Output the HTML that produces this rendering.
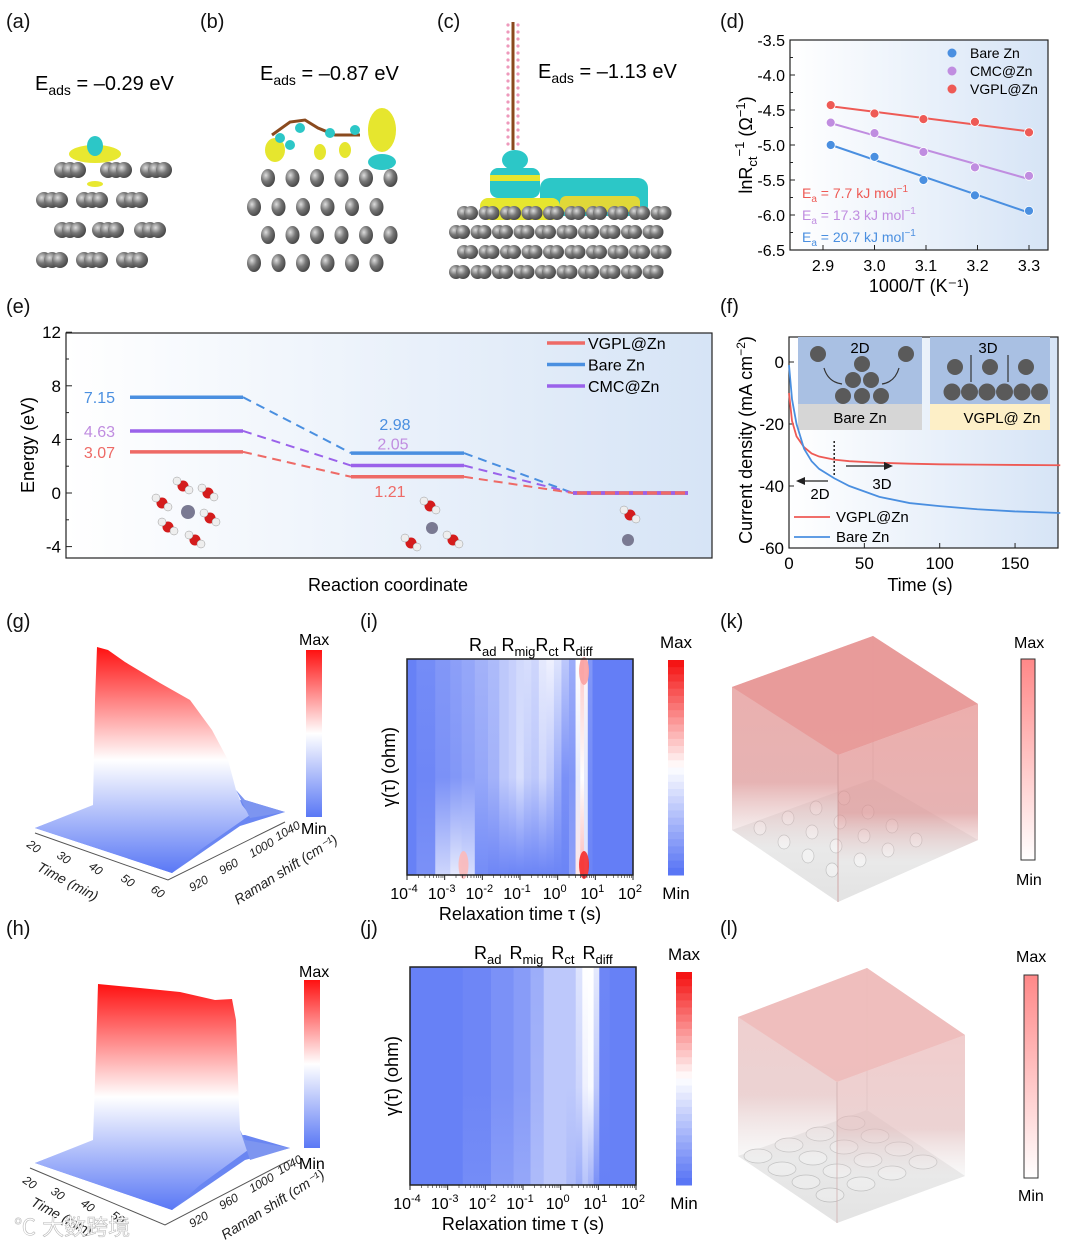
<!DOCTYPE html>
<html><head><meta charset="utf-8">
<style>
html,body{margin:0;padding:0;background:#fff;}
svg{display:block;font-family:"Liberation Sans","Noto Sans CJK SC",sans-serif;}
.lab{font-size:20px;fill:#111;}
</style></head>
<body>
<svg id="fig" width="1080" height="1245" viewBox="0 0 1080 1245" xmlns="http://www.w3.org/2000/svg">
<defs>
<linearGradient id="bgBlue" x1="0" y1="0" x2="1" y2="0"><stop offset="0" stop-color="#fff"/><stop offset="1" stop-color="#d6e4f6"/></linearGradient>
<linearGradient id="rwb" x1="0" y1="0" x2="0" y2="1"><stop offset="0" stop-color="#f11"/><stop offset="0.5" stop-color="#fff"/><stop offset="1" stop-color="#5a78f5"/></linearGradient>
<linearGradient id="rw" x1="0" y1="0" x2="0" y2="1"><stop offset="0" stop-color="#f88"/><stop offset="1" stop-color="#fff"/></linearGradient>
<linearGradient id="cubeK" x1="0" y1="0" x2="0" y2="1"><stop offset="0" stop-color="#e89a98"/><stop offset="0.55" stop-color="#e0a0a0"/><stop offset="0.8" stop-color="#eee" stop-opacity="0.5"/><stop offset="1" stop-color="#ddd" stop-opacity="0.4"/></linearGradient>
<linearGradient id="cubeL" x1="0" y1="0" x2="0" y2="1"><stop offset="0" stop-color="#ecbcbc"/><stop offset="0.5" stop-color="#e5c4c4"/><stop offset="0.75" stop-color="#eee" stop-opacity="0.5"/><stop offset="1" stop-color="#ddd" stop-opacity="0.4"/></linearGradient>
<radialGradient id="zn" cx="0.35" cy="0.35" r="0.7"><stop offset="0" stop-color="#ddd"/><stop offset="0.5" stop-color="#777"/><stop offset="1" stop-color="#444"/></radialGradient>
</defs>

<text class="lab" x="6" y="28">(a)</text>
<text class="lab" x="200" y="28">(b)</text>
<text class="lab" x="437" y="28">(c)</text>
<text class="lab" x="720" y="28">(d)</text>
<text class="lab" x="6" y="313">(e)</text>
<text class="lab" x="720" y="313">(f)</text>
<text class="lab" x="6" y="628">(g)</text>
<text class="lab" x="360" y="628">(i)</text>
<text class="lab" x="720" y="628">(k)</text>
<text class="lab" x="6" y="935">(h)</text>
<text class="lab" x="360" y="935">(j)</text>
<text class="lab" x="720" y="935">(l)</text>

<text x="35" y="90" font-size="20">E<tspan font-size="14" dy="5">ads</tspan><tspan dy="-5"> = –0.29 eV</tspan></text>
<text x="260" y="80" font-size="20">E<tspan font-size="14" dy="5">ads</tspan><tspan dy="-5"> = –0.87 eV</tspan></text>
<text x="538" y="78" font-size="20">E<tspan font-size="14" dy="5">ads</tspan><tspan dy="-5"> = –1.13 eV</tspan></text>
<g id="structA"></g>
<g id="structB"></g>
<g id="structC"></g>

<g id="chartD"></g>
<g id="chartE"></g>
<g id="chartF"></g>

<!-- (g) -->
<g>
<polygon points="35,828 95,805 245,800 285,812 240,826 172,873" fill="#6a86f2"/>
<path d="M35,828 L93,805 L95,700 L97,647 L108,650 L125,662 L160,683 L190,700 L212,730 L228,760 L236,790 L242,805 L250,815 L200,850 L172,873 Z" fill="url(#rwb)"/>
<path d="M236,790 L245,800 L285,812 L250,818 Z" fill="#7d95f0"/>
<polyline points="35,833 168,880 285,822" fill="none" stroke="#555" stroke-width="1"/>
<g font-size="12" fill="#222" font-style="italic">
<text transform="translate(26,846) rotate(35)">20</text><text transform="translate(56,857) rotate(35)">30</text><text transform="translate(88,868) rotate(35)">40</text><text transform="translate(120,880) rotate(35)">50</text><text transform="translate(150,891) rotate(35)">60</text>
<text transform="translate(36,870) rotate(28)" font-size="14">Time (min)</text>
<text transform="translate(192,892) rotate(-30)">920</text><text transform="translate(222,875) rotate(-30)">960</text><text transform="translate(252,858) rotate(-30)">1000</text><text transform="translate(278,841) rotate(-30)">1040</text>
<text transform="translate(238,905) rotate(-32)" font-size="14">Raman shift (cm⁻¹)</text>
</g>
<rect x="306" y="650" width="16" height="167" fill="url(#rwb)"/>
<text x="299" y="645" font-size="16">Max</text><text x="301" y="834" font-size="16">Min</text>
</g>

<!-- (h) -->
<g>
<polygon points="35,1163 95,1140 245,1135 290,1148 245,1160 172,1210" fill="#6a86f2"/>
<path d="M35,1163 L93,1140 L96,1050 L98,984 L140,988 L180,992 L215,1000 L232,999 L236,1020 L238,1080 L240,1130 L248,1150 L200,1185 L172,1210 Z" fill="url(#rwb)"/>
<path d="M240,1130 L245,1140 L290,1148 L250,1160 Z" fill="#7d95f0"/>
<polyline points="30,1168 165,1225 290,1160" fill="none" stroke="#555" stroke-width="1"/>
<g font-size="12" fill="#222" font-style="italic">
<text transform="translate(22,1182) rotate(35)">20</text><text transform="translate(50,1193) rotate(35)">30</text><text transform="translate(80,1205) rotate(35)">40</text><text transform="translate(110,1217) rotate(35)">50</text>
<text transform="translate(30,1205) rotate(28)" font-size="14">Time (min)</text>
<text transform="translate(192,1228) rotate(-30)">920</text><text transform="translate(222,1210) rotate(-30)">960</text><text transform="translate(252,1193) rotate(-30)">1000</text><text transform="translate(280,1175) rotate(-30)">1040</text>
<text transform="translate(225,1240) rotate(-32)" font-size="14">Raman shift (cm⁻¹)</text>
</g>
<rect x="304" y="980" width="16" height="168" fill="url(#rwb)"/>
<text x="299" y="977" font-size="16">Max</text><text x="299" y="1169" font-size="16">Min</text>
<text x="14" y="1235" font-size="22" fill="#fff" stroke="#bbb" stroke-width="0.6">℃ 大数跨境</text>
</g>

<g id="chartI"></g>
<g id="chartJ"></g>

<!-- (k) -->
<g>
<polygon points="732,830 873,779 978,840 838,902" fill="#e6e6e6"/>
<line x1="873" y1="636" x2="873" y2="779" stroke="#ccc" stroke-width="0.8"/>
<g id="bumpsK"></g>
<polygon points="732,687 873,636 978,704 838,755 838,902 732,830" fill="url(#cubeK)" opacity="0.8"/>
<polygon points="838,755 978,704 978,840 838,902" fill="url(#cubeK)" opacity="0.8"/>
<polygon points="732,687 873,636 978,704 838,755" fill="#e89896" opacity="0.85"/>
<line x1="838" y1="755" x2="838" y2="902" stroke="#c99" stroke-width="0.8"/>
<rect x="1021" y="659" width="14" height="201" fill="url(#rw)" stroke="#333" stroke-width="1"/>
<text x="1014" y="648" font-size="16">Max</text><text x="1016" y="885" font-size="16">Min</text>
</g>
<!-- (l) -->
<g>
<polygon points="738,1156 867,1110 965,1176 837,1223" fill="#e6e6e6"/>
<line x1="867" y1="968" x2="867" y2="1110" stroke="#ccc" stroke-width="0.8"/>
<g id="bumpsL"></g>
<polygon points="738,1017 867,968 965,1035 837,1082 837,1223 738,1156" fill="url(#cubeL)" opacity="0.75"/>
<polygon points="837,1082 965,1035 965,1176 837,1223" fill="url(#cubeL)" opacity="0.75"/>
<polygon points="738,1017 867,968 965,1035 837,1082" fill="#efbbba" opacity="0.85"/>
<line x1="837" y1="1082" x2="837" y2="1223" stroke="#d0b0b0" stroke-width="0.8"/>
<rect x="1024" y="975" width="14" height="203" fill="url(#rw)" stroke="#333" stroke-width="1"/>
<text x="1016" y="962" font-size="16">Max</text><text x="1018" y="1201" font-size="16">Min</text>
</g>

<script>
const dX = [2.915, 3.0, 3.095, 3.195, 3.3];
const dBare = [-5.0, -5.17, -5.5, -5.72, -5.94];
const dCMC = [-4.68, -4.83, -5.1, -5.32, -5.44];
const dVGPL = [-4.43, -4.55, -4.63, -4.67, -4.82];
const dYTicks = [-3.5, -4.0, -4.5, -5.0, -5.5, -6.0, -6.5];
const dXTicks = [2.9, 3.0, 3.1, 3.2, 3.3];
const dEa = ["7.7", "17.3", "20.7"];

const eStages = [0, 1, 2];
const eBare = [7.15, 2.98, 0];
const eCMC = [4.63, 2.05, 0];
const eVGPL = [3.07, 1.21, 0];
const eYTicks = [12, 8, 4, 0, -4];

const fTime = [0, 2, 5, 10, 15, 20, 30, 40, 60, 80, 100, 125, 150, 180];
const fVGPL = [-10, -19, -24, -27.5, -29.5, -30.5, -31.5, -32, -32.5, -32.8, -33, -33.1, -33.2, -33.3];
const fBare = [-1, -12, -20, -28, -32, -34.5, -37.5, -40, -43.5, -45.5, -46.5, -47.5, -48.2, -48.7];
const fYTicks = [0, -20, -40, -60];
const fXTicks = [0, 50, 100, 150];

const iLogTau = [-4, -3.5, -3, -2.7, -2.4, -2, -1.7, -1.4, -1.2, -1, -0.8, -0.6, -0.4, -0.2, 0, 0.2, 0.4, 0.55, 0.65, 0.75, 0.85, 1, 1.5, 2];
const iTop = [0.04, 0.08, 0.12, 0.15, 0.18, 0.22, 0.25, 0.3, 0.33, 0.36, 0.38, 0.35, 0.42, 0.45, 0.4, 0.3, 0.2, 0.5, 0.62, 0.52, 0.12, 0.03, 0.03, 0.03];
const iMid = [0.04, 0.06, 0.1, 0.12, 0.15, 0.18, 0.22, 0.3, 0.33, 0.38, 0.32, 0.3, 0.35, 0.3, 0.2, 0.1, 0.12, 0.42, 0.5, 0.42, 0.08, 0.03, 0.03, 0.03];
const iBot = [0.04, 0.1, 0.35, 0.42, 0.38, 0.08, 0.06, 0.06, 0.05, 0.05, 0.05, 0.05, 0.05, 0.05, 0.05, 0.05, 0.15, 0.55, 0.65, 0.4, 0.05, 0.03, 0.03, 0.03];
const jLogTau = [-4, -3, -2.2, -1.5, -1, -0.6, -0.3, 0, 0.3, 0.5, 0.65, 0.8, 0.95, 1.1, 1.5, 2];
const jTop = [0.04, 0.04, 0.06, 0.1, 0.14, 0.2, 0.3, 0.3, 0.3, 0.4, 0.5, 0.5, 0.42, 0.06, 0.04, 0.04];
const jMid = [0.04, 0.04, 0.06, 0.1, 0.14, 0.22, 0.3, 0.3, 0.3, 0.35, 0.45, 0.48, 0.3, 0.05, 0.04, 0.04];
const jBot = [0.04, 0.04, 0.08, 0.14, 0.18, 0.25, 0.3, 0.3, 0.25, 0.2, 0.28, 0.22, 0.1, 0.04, 0.04, 0.04];
const tauTicks = [-4, -3, -2, -1, 0, 1, 2];

const NS = "http://www.w3.org/2000/svg";
function mk(parent, tag, attrs, txt) {
  const e = document.createElementNS(NS, tag);
  for (const k in attrs) e.setAttribute(k, attrs[k]);
  if (txt !== undefined) e.textContent = txt;
  parent.appendChild(e);
  return e;
}
function rich(parent, attrs, parts) {
  const t = mk(parent, "text", attrs);
  parts.forEach(p => mk(t, "tspan", p[1] || {}, p[0]));
  return t;
}
const defs = document.querySelector("defs");

// structures
(function () {
  const A = document.getElementById("structA");
  mk(A, "ellipse", {cx: 95, cy: 154, rx: 26, ry: 9, fill: "#e8e830"});
  mk(A, "ellipse", {cx: 95, cy: 146, rx: 8, ry: 10, fill: "#2cc7c7"});
  mk(A, "ellipse", {cx: 95, cy: 184, rx: 8, ry: 3, fill: "#e8e830"});
  const rowsA = [[170, [62, 108, 148]], [200, [44, 84, 124]], [230, [62, 100, 142]], [260, [44, 84, 124]]];
  rowsA.forEach(r => r[1].forEach(x0 => { for (let k = 0; k < 3; k++) mk(A, "circle", {cx: x0 + k * 8, cy: r[0], r: 8, fill: "url(#zn)"}); }));
  const B = document.getElementById("structB");
  mk(B, "ellipse", {cx: 275, cy: 150, rx: 10, ry: 12, fill: "#e6e62e"});
  mk(B, "ellipse", {cx: 320, cy: 152, rx: 6, ry: 8, fill: "#e6e62e"});
  mk(B, "ellipse", {cx: 345, cy: 150, rx: 6, ry: 8, fill: "#e6e62e"});
  mk(B, "ellipse", {cx: 382, cy: 130, rx: 14, ry: 22, fill: "#e6e62e"});
  mk(B, "ellipse", {cx: 382, cy: 162, rx: 14, ry: 8, fill: "#2cc7c7"});
  mk(B, "path", {d: "M272,135 L290,122 L305,120 L318,128 L335,135 L360,135", stroke: "#8a4a1e", "stroke-width": 3, fill: "none"});
  [[280,138],[300,128],[330,133],[355,130],[290,145]].forEach(p => mk(B, "circle", {cx: p[0], cy: p[1], r: 5, fill: "#2cc7c7"}));
  [178, 207, 235, 263].forEach((y, ri) => { for (let k = 0; k < 6; k++) mk(B, "ellipse", {cx: (ri % 2 ? 254 : 268) + k * 24.5, cy: y, rx: 7, ry: 9, fill: "url(#zn)"}); });
  const C = document.getElementById("structC");
  mk(C, "line", {x1: 513, y1: 22, x2: 513, y2: 150, stroke: "#8a4a1e", "stroke-width": 3});
  for (let y = 25; y < 148; y += 7) { mk(C, "circle", {cx: 508, cy: y, r: 1.6, fill: "#e9b"}); mk(C, "circle", {cx: 518, cy: y, r: 1.6, fill: "#e9b"}); }
  mk(C, "ellipse", {cx: 515, cy: 160, rx: 13, ry: 10, fill: "#2cc7c7"});
  mk(C, "rect", {x: 490, y: 168, width: 50, height: 30, rx: 8, fill: "#2cc7c7"});
  mk(C, "rect", {x: 490, y: 175, width: 50, height: 6, fill: "#e6e62e"});
  mk(C, "rect", {x: 540, y: 178, width: 108, height: 38, rx: 10, fill: "#2cc7c7"});
  mk(C, "rect", {x: 480, y: 198, width: 80, height: 22, rx: 8, fill: "#e6e62e"});
  mk(C, "rect", {x: 560, y: 196, width: 80, height: 16, rx: 6, fill: "#e0d838"});
  mk(C, "rect", {x: 590, y: 185, width: 40, height: 8, fill: "#2cc7c7"});
  [213, 232, 252, 272].forEach((y, ri) => { for (let k = 0; k < 10; k++) { const x0 = (ri % 2 ? 456 : 464) + k * 21.5; mk(C, "circle", {cx: x0, cy: y, r: 7, fill: "url(#zn)"}); mk(C, "circle", {cx: x0 + 7, cy: y, r: 7, fill: "url(#zn)"}); } });
})();

// chart (d)
(function () {
  const g = document.getElementById("chartD");
  const L = 790, R = 1048, T = 40, B = 250;
  const xs = v => 823 + (v - 2.9) * 515;
  const ys = v => T + (-3.5 - v) * 70;
  mk(g, "rect", {x: L, y: T, width: R - L, height: B - T, fill: "url(#bgBlue)", stroke: "#222", "stroke-width": 1.2});
  dYTicks.forEach(v => {
    mk(g, "line", {x1: L, x2: L + 5, y1: ys(v), y2: ys(v), stroke: "#222"});
    const t = mk(g, "text", {x: L - 5, y: ys(v) + 6, "text-anchor": "end", "font-size": 16}, v.toFixed(1));
    
    
    if (v > -6.5) mk(g, "line", {x1: L, x2: L + 3, y1: ys(v - 0.25), y2: ys(v - 0.25), stroke: "#222"});
  });
  dXTicks.forEach(v => {
    mk(g, "line", {x1: xs(v), x2: xs(v), y1: B, y2: B - 5, stroke: "#222"});
    const t = mk(g, "text", {x: xs(v), y: B + 21, "text-anchor": "middle", "font-size": 16}, v.toFixed(1));
    
    
  });
  const series = [[dBare, "#4a8fe0", "Bare Zn"], [dCMC, "#c08de0", "CMC@Zn"], [dVGPL, "#ee5a55", "VGPL@Zn"]];
  series.forEach((s, si) => {
    const n = dX.length, mx = dX.reduce((a, b) => a + b) / n, my = s[0].reduce((a, b) => a + b) / n;
    let num = 0, den = 0; dX.forEach((x, i) => { num += (x - mx) * (s[0][i] - my); den += (x - mx) * (x - mx); });
    const k = num / den, b0 = my - k * mx;
    const ln = mk(g, "line", {x1: xs(dX[0]), y1: ys(k * dX[0] + b0), x2: xs(dX[n - 1]), y2: ys(k * dX[n - 1] + b0), stroke: s[1], "stroke-width": 2});
    
    
    dX.forEach((x, i) => {
      const c = mk(g, "circle", {cx: xs(x), cy: ys(s[0][i]), r: 4.5, fill: s[1], stroke: "#fff", "stroke-width": 0.8});
      
      
    });
    mk(g, "circle", {cx: 952, cy: 53 + si * 18, r: 4.5, fill: s[1]});
    mk(g, "text", {x: 970, y: 58 + si * 18, "font-size": 14}, s[2]);
  });
  const eaCols = ["#ee5a55", "#c08de0", "#4a8fe0"];
  dEa.forEach((v, i) => {
    rich(g, {x: 802, y: 198 + i * 22, "font-size": 14, fill: eaCols[i]}, [["E"], ["a", {"font-size": 10, dy: 4}], [" = " + v + " kJ mol", {dy: -4}], ["−1", {"font-size": 10, dy: -6}]]);
  });
  mk(g, "text", {x: 919, y: 292, "text-anchor": "middle", "font-size": 18}, "1000/T (K⁻¹)");
  rich(g, {transform: "translate(752,145) rotate(-90)", "text-anchor": "middle", "font-size": 18},
    [["lnR"], ["ct", {"font-size": 13, dy: 5}], ["−1", {"font-size": 13, dy: -13}], [" (Ω", {dy: 8}], ["−1", {"font-size": 13, dy: -7}], [")", {dy: 7}]]);
})();

// chart (e)
(function () {
  const g = document.getElementById("chartE");
  const L = 66, R = 712, T = 333, B = 558;
  const ys = v => 493 - v * 13.4;
  const segX = [[130, 243], [351, 464], [573, 688]];
  mk(g, "rect", {x: L, y: T, width: R - L, height: B - T, fill: "url(#bgBlue)", stroke: "#222", "stroke-width": 1.2});
  eYTicks.forEach(v => {
    mk(g, "line", {x1: L, x2: L + 6, y1: ys(v), y2: ys(v), stroke: "#222"});
    if (v > -4) mk(g, "line", {x1: L, x2: L + 3, y1: ys(v - 2), y2: ys(v - 2), stroke: "#222"});
    mk(g, "text", {x: L - 5, y: ys(v) + 6, "text-anchor": "end", "font-size": 17}, String(v));
  });
  const ser = [[eBare, "#4a8fe0"], [eCMC, "#9a62ea"], [eVGPL, "#ee6a66"]];
  ser.forEach(s => {
    eStages.forEach((st, i) => {
      const ln = mk(g, "line", {x1: segX[st][0], x2: segX[st][1], y1: ys(s[0][i]), y2: ys(s[0][i]), stroke: s[1], "stroke-width": 3.5});
      
      
      if (i < eStages.length - 1) mk(g, "line", {x1: segX[st][1], y1: ys(s[0][i]), x2: segX[st + 1][0], y2: ys(s[0][i + 1]), stroke: s[1], "stroke-width": 2, "stroke-dasharray": "9,6"});
    });
  });
  mk(g, "line", {x1: segX[2][0], x2: segX[2][1], y1: ys(0), y2: ys(0), stroke: "#9a62ea", "stroke-width": 3.5, "stroke-dasharray": "4,10"});
  const labCols = ["#4a8fe0", "#c08de0", "#ee6a66"];
  [eBare, eCMC, eVGPL].forEach((s, i) => {
    mk(g, "text", {x: 115, y: ys(s[0]) + 6, "text-anchor": "end", "font-size": 16, fill: labCols[i]}, s[0].toFixed(2));
  });
  mk(g, "text", {x: 395, y: ys(eBare[1]) - 23, "text-anchor": "middle", "font-size": 16, fill: labCols[0]}, eBare[1].toFixed(2));
  mk(g, "text", {x: 393, y: ys(eCMC[1]) - 16, "text-anchor": "middle", "font-size": 16, fill: labCols[1]}, eCMC[1].toFixed(2));
  mk(g, "text", {x: 390, y: ys(eVGPL[1]) + 20, "text-anchor": "middle", "font-size": 16, fill: labCols[2]}, eVGPL[1].toFixed(2));
  [["VGPL@Zn", "#ee6a66"], ["Bare Zn", "#4a8fe0"], ["CMC@Zn", "#9a62ea"]].forEach((l, i) => {
    mk(g, "line", {x1: 547, x2: 585, y1: 343 + i * 21.5, y2: 343 + i * 21.5, stroke: l[1], "stroke-width": 3.5});
    mk(g, "text", {x: 588, y: 349 + i * 21.5, "font-size": 16}, l[0]);
  });
  const water = (x, y) => { mk(g, "circle", {cx: x, cy: y, r: 5.5, fill: "#d41c1c"}); mk(g, "circle", {cx: x - 6, cy: y - 5, r: 4, fill: "#eee", stroke: "#999", "stroke-width": 0.5}); mk(g, "circle", {cx: x + 6, cy: y + 4, r: 4, fill: "#eee", stroke: "#999", "stroke-width": 0.5}); };
  mk(g, "circle", {cx: 188, cy: 512, r: 7, fill: "#7a7a92"});
  [[183, 486], [208, 493], [210, 518], [195, 540], [168, 527], [162, 503]].forEach(p => water(p[0], p[1]));
  mk(g, "circle", {cx: 432, cy: 528, r: 6, fill: "#7a7a92"});
  [[430, 506], [411, 543], [453, 540]].forEach(p => water(p[0], p[1]));
  mk(g, "circle", {cx: 628, cy: 540, r: 6, fill: "#7a7a92"});
  water(630, 515);
  mk(g, "text", {x: 388, y: 591, "text-anchor": "middle", "font-size": 18}, "Reaction coordinate");
  mk(g, "text", {transform: "translate(34,445) rotate(-90)", "text-anchor": "middle", "font-size": 18}, "Energy (eV)");
})();

// chart (f)
(function () {
  const g = document.getElementById("chartF");
  const L = 789, R = 1058, T = 337, B = 548;
  const xs = v => L + v * 1.507;
  const ys = v => 362 - v * 3.1;
  mk(g, "rect", {x: L, y: T, width: R - L, height: B - T, fill: "url(#bgBlue)", stroke: "#222", "stroke-width": 1.2});
  mk(g, "rect", {x: 798, y: 337, width: 124, height: 67, fill: "#a9c0e3"});
  mk(g, "rect", {x: 798, y: 404, width: 124, height: 26, fill: "#d6d6d6"});
  mk(g, "text", {x: 860, y: 423, "text-anchor": "middle", "font-size": 15}, "Bare Zn");
  mk(g, "rect", {x: 930, y: 337, width: 120, height: 67, fill: "#a9c0e3"});
  mk(g, "rect", {x: 930, y: 404, width: 120, height: 26, fill: "#fdefc7"});
  mk(g, "text", {x: 1002, y: 423, "text-anchor": "middle", "font-size": 15}, "VGPL@ Zn");
  mk(g, "text", {x: 860, y: 353, "text-anchor": "middle", "font-size": 15}, "2D");
  mk(g, "text", {x: 988, y: 353, "text-anchor": "middle", "font-size": 15}, "3D");
  [[818, 354], [906, 354], [862, 364], [853, 380], [871, 380], [843, 396], [862, 396], [881, 396]].forEach(p => mk(g, "circle", {cx: p[0], cy: p[1], r: 8, fill: "#5a5a5a"}));
  [[955, 367], [990, 367], [1026, 367]].forEach(p => mk(g, "circle", {cx: p[0], cy: p[1], r: 8, fill: "#5a5a5a"}));
  for (let k = 0; k < 6; k++) mk(g, "circle", {cx: 952 + k * 17.5, cy: 392, r: 8.5, fill: "#5a5a5a"});
  mk(g, "path", {d: "M824,368 Q828,382 842,384", stroke: "#333", fill: "none", "stroke-width": 1.2});
  mk(g, "path", {d: "M899,368 Q895,382 882,384", stroke: "#333", fill: "none", "stroke-width": 1.2});
  mk(g, "line", {x1: 971, y1: 355, x2: 971, y2: 382, stroke: "#333", "stroke-width": 1.2});
  mk(g, "line", {x1: 1008, y1: 355, x2: 1008, y2: 382, stroke: "#333", "stroke-width": 1.2});
  fYTicks.forEach(v => {
    mk(g, "line", {x1: L, x2: L + 5, y1: ys(v), y2: ys(v), stroke: "#222"});
    mk(g, "text", {x: L - 5, y: ys(v) + 6, "text-anchor": "end", "font-size": 17}, String(v));
  });
  fXTicks.forEach(v => {
    mk(g, "line", {x1: xs(v), x2: xs(v), y1: B, y2: B - 5, stroke: "#222"});
    mk(g, "text", {x: xs(v), y: B + 21, "text-anchor": "middle", "font-size": 17}, String(v));
  });
  const line = (arr, col, nm) => {
    const p = mk(g, "polyline", {points: fTime.map((t, i) => xs(t) + "," + ys(arr[i])).join(" "), fill: "none", stroke: col, "stroke-width": 1.8});
    
    
  };
  line(fVGPL, "#ee5a55", "vgpl-curve");
  line(fBare, "#4a8fe0", "bare-zn-curve");
  mk(g, "line", {x1: xs(30), x2: xs(30), y1: 441, y2: 476, stroke: "#222", "stroke-dasharray": "2,2", "stroke-width": 1.5});
  mk(g, "line", {x1: 846, x2: 891, y1: 466, y2: 466, stroke: "#222", "stroke-width": 1.3});
  mk(g, "polygon", {points: "893,466 884,462 884,470", fill: "#222"});
  mk(g, "line", {x1: 799, x2: 828, y1: 481, y2: 481, stroke: "#222", "stroke-width": 1.3});
  mk(g, "polygon", {points: "796,481 805,477 805,485", fill: "#222"});
  mk(g, "text", {x: 820, y: 499, "text-anchor": "middle", "font-size": 15}, "2D");
  mk(g, "text", {x: 882, y: 489, "text-anchor": "middle", "font-size": 15}, "3D");
  mk(g, "line", {x1: 794, x2: 830, y1: 517, y2: 517, stroke: "#ee5a55", "stroke-width": 1.8});
  mk(g, "text", {x: 836, y: 522, "font-size": 15}, "VGPL@Zn");
  mk(g, "line", {x1: 794, x2: 830, y1: 537, y2: 537, stroke: "#4a8fe0", "stroke-width": 1.8});
  mk(g, "text", {x: 836, y: 542, "font-size": 15}, "Bare Zn");
  mk(g, "text", {x: 920, y: 591, "text-anchor": "middle", "font-size": 18}, "Time (s)");
  rich(g, {transform: "translate(752,440) rotate(-90)", "text-anchor": "middle", "font-size": 18},
    [["Current density (mA cm"], ["−2", {"font-size": 12, dy: -7}], [")", {dy: 7}]]);
})();

// heatmaps
function cmap(t) {
  const b = [90, 118, 245], w = [255, 255, 255], r = [245, 20, 20];
  let c;
  if (t < 0.5) { const u = t / 0.5; c = b.map((v, i) => v + (w[i] - v) * u); }
  else { const u = (t - 0.5) / 0.5; c = w.map((v, i) => v + (r[i] - v) * u); }
  return "rgb(" + c.map(Math.round).join(",") + ")";
}
function heat(id, L, R, T, B, tau, top, mid, bot, spots, cb, labX) {
  const g = document.getElementById(id);
  const xs = v => L + (v + 4) / 6 * (R - L);
  mk(g, "rect", {x: L, y: T, width: R - L, height: B - T, fill: cmap(0.04)});
  tau.forEach((v, i) => {
    const x0 = i === 0 ? xs(-4) : xs((tau[i - 1] + v) / 2);
    const x1 = i === tau.length - 1 ? xs(2) : xs((tau[i + 1] + v) / 2);
    const gid = id + "g" + i;
    const lg = mk(defs, "linearGradient", {id: gid, x1: 0, y1: 0, x2: 0, y2: 1});
    mk(lg, "stop", {offset: 0, "stop-color": cmap(top[i])});
    mk(lg, "stop", {offset: 0.55, "stop-color": cmap(mid[i])});
    mk(lg, "stop", {offset: 1, "stop-color": cmap(bot[i])});
    const r = mk(g, "rect", {x: x0, y: T, width: x1 - x0 + 0.6, height: B - T, fill: "url(#" + gid + ")"});
    
    
  });
  spots.forEach(s => mk(g, "ellipse", {cx: xs(s[0]), cy: s[1] === 0 ? T + 12 : B - 10, rx: 5, ry: 14, fill: cmap(s[2]), opacity: 0.9}));
  mk(g, "rect", {x: L, y: T, width: R - L, height: B - T, fill: "none", stroke: "#222", "stroke-width": 1.5});
  tauTicks.forEach(v => {
    mk(g, "line", {x1: xs(v), x2: xs(v), y1: B, y2: B + 5, stroke: "#222"});
    for (let k = 2; k < 10 && v < 2; k++) { const xm = xs(v + Math.log10(k)); mk(g, "line", {x1: xm, x2: xm, y1: B, y2: B + 3, stroke: "#222", "stroke-width": 0.6}); }
    rich(g, {x: xs(v) - 3, y: B + 24, "text-anchor": "middle", "font-size": 16}, [["10"], [String(v), {"font-size": 11, dy: -7}]]);
  });
  mk(g, "text", {x: (L + R) / 2, y: B + 45, "text-anchor": "middle", "font-size": 18}, "Relaxation time τ (s)");
  mk(g, "text", {transform: "translate(" + (L - 12) + "," + (T + B) / 2 + ") rotate(-90)", "text-anchor": "middle", "font-size": 18}, "γ(τ) (ohm)");
  rich(g, {x: labX[0], y: T - 8, "font-size": 18}, [
    ["R"], ["ad", {"font-size": 13, dy: 5}], ["R", {dy: -5, dx: labX[1]}], ["mig", {"font-size": 13, dy: 5}],
    ["R", {dy: -5, dx: labX[2]}], ["ct", {"font-size": 13, dy: 5}], ["R", {dy: -5, dx: labX[3]}], ["diff", {"font-size": 13, dy: 5}]]);
  for (let k = 0; k < 30; k++) {
    const t = 1 - k / 29;
    mk(g, "rect", {x: cb[0], y: cb[1] + k * (cb[2] - cb[1]) / 30, width: 16, height: (cb[2] - cb[1]) / 30 + 0.5, fill: cmap(t)});
  }
  mk(g, "text", {x: cb[0] + 8, y: cb[1] - 12, "text-anchor": "middle", "font-size": 17}, "Max");
  mk(g, "text", {x: cb[0] + 8, y: cb[2] + 24, "text-anchor": "middle", "font-size": 17}, "Min");
}
heat("chartI", 407, 633, 659, 875, iLogTau, iTop, iMid, iBot, [[0.7, 0, 0.7], [0.7, 1, 0.95], [-2.5, 1, 0.65]], [668, 660, 875], [469, 5, 0, 4]);
heat("chartJ", 410, 636, 967, 1185, jLogTau, jTop, jMid, jBot, [], [676, 972, 1185], [474, 8, 8, 8]);

function bumps(id, org, ax, ay, rx, ry, col) {
  const g = document.getElementById(id);
  for (let i = 0; i < 4; i++) for (let j = 0; j < 4; j++) {
    const x = org[0] + i * ax[0] + j * ay[0], y = org[1] + i * ax[1] + j * ay[1];
    mk(g, "ellipse", {cx: x, cy: y, rx: rx, ry: ry, fill: col, stroke: "#aaa", "stroke-width": 0.7});
  }
}
bumps("bumpsK", [760, 828], [28, -10], [24, 14], 6, 7, "#f6f6f6");
bumps("bumpsL", [758, 1156], [31, -11], [24, 13], 14, 7, "#eeeeee");
</script>
</svg>
</body></html>
